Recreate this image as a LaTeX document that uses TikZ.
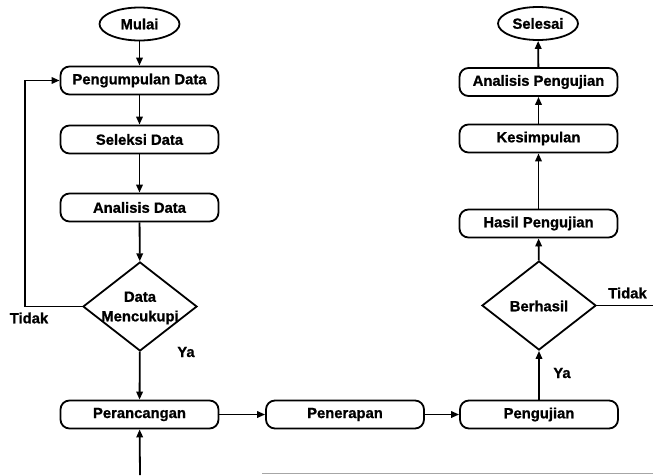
\documentclass[tikz,border=0pt]{standalone}
\usepackage{fontspec}
\setmainfont{Liberation Sans}[BoldFeatures={FakeBold=1}]
\usetikzlibrary{shapes.geometric,arrows.meta}
\begin{document}
\begin{tikzpicture}[x=1pt,y=-1pt,
  every node/.style={font=\fontsize{14.8}{19.5}\selectfont\bfseries},
  proc/.style={draw,line width=1.8pt,rounded corners=9pt,minimum width=158pt,minimum height=28pt,inner sep=0pt},
  term/.style={draw,line width=1.8pt,ellipse,minimum width=80pt,minimum height=33pt,inner sep=0pt},
  decide/.style={draw,line width=1.8pt,diamond,minimum width=114pt,minimum height=89pt,inner sep=0pt},
  arr/.style={line width=1.8pt,-{Triangle[length=8pt,width=6.5pt]}},
  plain/.style={line width=1.8pt},
  lbl/.style={inner sep=0pt}]
\useasboundingbox (0,0) rectangle (653,475);

% left column
\node[term] (mulai) at (139.5,24) {Mulai};
\node[proc] (kumpul) at (139.5,80.5) {Pengumpulan Data};
\node[proc] (seleksi) at (139.5,139.5) {Seleksi Data};
\node[proc] (analisis) at (139.5,207.5) {Analisis Data};
\node[decide] (cukup) at (140,306.5) {};
\node[lbl,align=center] (cukuptxt) at (140,308) {Data\\Mencukupi};
\node[proc] (rancang) at (139.5,414.5) {Perancangan};

% bottom row
\node[proc] (terap) at (345,414.5) {Penerapan};
\node[proc] (uji) at (539,414.5) {Pengujian};

% right column
\node[decide] (berhasil) at (539,305.5) {};
\node[lbl] (berhasiltxt) at (539,306) {Berhasil};
\node[proc] (hasil) at (538.5,223.5) {Hasil Pengujian};
\node[proc] (simpul) at (538.5,138.5) {Kesimpulan};
\node[proc] (analuji) at (538.5,82) {Analisis Pengujian};
\node[term] (selesai) at (538,23.5) {Selesai};

% branch labels
\node[lbl] (tidak1) at (29,318) {Tidak};
\node[lbl] (ya1) at (186,352) {Ya};
\node[lbl] (tidak2) at (627.5,293) {Tidak};
\node[lbl] (ya2) at (562,373) {Ya};

% free ends
\coordinate (masuk) at (140,475);
\coordinate (keluar) at (653,305.5);
\coordinate (garisA) at (262,473.5);
\coordinate (garisB) at (653,473.5);

% connectors
\draw[arr] (mulai) -- (kumpul);
\draw[arr] (kumpul) -- (seleksi);
\draw[arr] (seleksi) -- (analisis);
\draw[arr] (analisis) -- (cukup);
\draw[arr] (cukup.west) -- ++(-57,0) |- (kumpul.west);
\draw[arr] (cukup) -- (rancang);
\draw[arr] (masuk) -- (rancang);
\draw[arr] (rancang) -- (terap);
\draw[arr] (terap) -- (uji);
\draw[arr] (uji) -- (berhasil);
\draw[arr] (berhasil) -- (hasil);
\draw[arr] (hasil) -- (simpul);
\draw[arr] (simpul) -- (analuji);
\draw[arr] (analuji) -- (selesai);
\draw[plain] (berhasil.east) -- (keluar);
\draw[line width=1.2pt,black!35] (garisA) -- (garisB);
\end{tikzpicture}
\end{document}
